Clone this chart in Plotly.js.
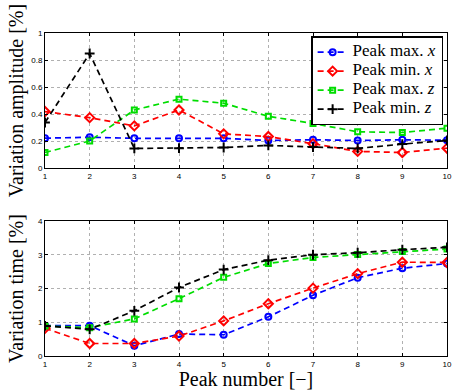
<!DOCTYPE html>
<html><head><meta charset="utf-8">
<script src="https://cdn.plot.ly/plotly-3.0.1.min.js"></script>
<style>body{margin:0;background:#fff}#c{width:454px;height:390px}</style>
</head><body><div id="c"></div>
<script>
const peaks = [1,2,3,4,5,6,7,8,9,10];
const ampMaxX = [0.221,0.228,0.22,0.22,0.22,0.204,0.209,0.204,0.209,0.206];
const ampMinX = [0.418,0.373,0.312,0.43,0.253,0.233,0.18,0.123,0.115,0.147];
const ampMaxZ = [0.115,0.2,0.43,0.51,0.48,0.383,0.33,0.268,0.263,0.295];
const ampMinZ = [0.337,0.848,0.145,0.147,0.152,0.167,0.155,0.145,0.177,0.204];
const timeMaxX = [0.9,0.9,0.305,0.65,0.63,1.16,1.8,2.32,2.6,2.74];
const timeMinX = [0.82,0.37,0.37,0.59,1.04,1.55,2.01,2.44,2.78,2.77];
const timeMaxZ = [0.89,0.84,1.1,1.7,2.33,2.74,2.92,3.01,3.1,3.17];
const timeMinZ = [0.89,0.79,1.34,2.03,2.56,2.84,3.0,3.06,3.15,3.22];
const names = ['Peak max. <i>x</i>','Peak min. <i>x</i>','Peak max. <i>z</i>','Peak min. <i>z</i>'];
const colors = ['#0000ff','#ff0000','#00dd00','#000000'];
const symbols = ['circle-open','diamond-open','square-open','cross-thin-open'];
const sizes = [6,7,5,7];

function tr(y, i, xa, ya, show){
  return {x: peaks, y: y, xaxis: xa, yaxis: ya, type:'scatter', mode:'lines+markers',
    name: '<span style="font-size:17px">' + names[i] + '</span>', showlegend: show,
    line:{color:colors[i], dash:'6px,4px', width:1.7},
    marker:{symbol:symbols[i], size:sizes[i], color:colors[i], line:{color:colors[i], width:2}}};
}
const data = [
  tr(ampMaxX,0,'x','y',true), tr(ampMinX,1,'x','y',true), tr(ampMaxZ,2,'x','y',true), tr(ampMinZ,3,'x','y',true),
  tr(timeMaxX,0,'x2','y2',false), tr(timeMinX,1,'x2','y2',false), tr(timeMaxZ,2,'x2','y2',false), tr(timeMinZ,3,'x2','y2',false)
];
const serif = 'Liberation Serif';
const tickfont = {family:'Liberation Sans', size:8, color:'#000'};
const xbase = {range:[1,10], tickvals:peaks, ticktext:peaks.map(String), showline:true, mirror:'ticks',
  linecolor:'#000', linewidth:1, ticks:'inside', ticklen:3, tickcolor:'#000', showgrid:true,
  gridcolor:'#b0b0b0', griddash:'dot', gridwidth:1, zeroline:false, tickfont:tickfont};
const ybase = {showline:true, mirror:'ticks', linecolor:'#000', linewidth:1, ticks:'inside', ticklen:3,
  tickcolor:'#000', showgrid:true, gridcolor:'#b0b0b0', griddash:'dot', gridwidth:1, zeroline:false, tickfont:tickfont};
const titleFont = {family:serif, size:20, color:'#000'};
const layout = {
  width:454, height:390, paper_bgcolor:'#fff', plot_bgcolor:'#fff',
  font:{family:serif},
  margin:{l:45, r:7, t:20, b:34},
  showlegend:true,
  legend:{x:0.662, y:0.952, xanchor:'left', yanchor:'top', bgcolor:'#fff', bordercolor:'#000', borderwidth:1.5,
    font:{family:serif, size:11, color:'#000'}, tracegroupgap:0, itemwidth:30},
  xaxis: Object.assign({}, xbase, {domain:[0,1], anchor:'y'}),
  yaxis: Object.assign({}, ybase, {domain:[0.5595,0.9613], range:[0,1], tickvals:[0,0.2,0.4,0.6,0.8,1], ticktext:['0','0.2','0.4','0.6','0.8','1'], anchor:'x',
    title:{text:'Variation amplitude [%]', font:titleFont, standoff:2}}),
  xaxis2: Object.assign({}, xbase, {domain:[0,1], anchor:'y2', title:{text:'Peak number [−]', font:titleFont, standoff:0}}),
  yaxis2: Object.assign({}, ybase, {domain:[0,0.4018], range:[0,4], tickvals:[0,1,2,3,4], anchor:'x2',
    title:{text:'Variation time [%]', font:titleFont, standoff:8}})
};
Plotly.newPlot('c', data, layout, {displayModeBar:false, staticPlot:true});
</script></body></html>
